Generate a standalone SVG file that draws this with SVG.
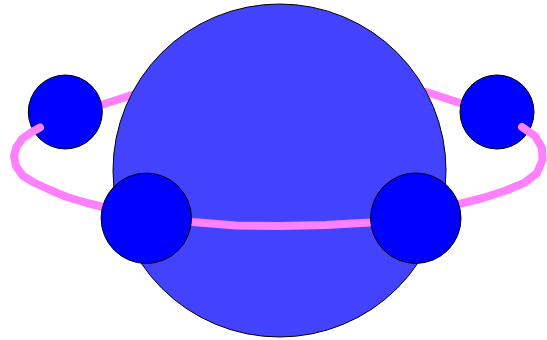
<svg xmlns="http://www.w3.org/2000/svg" width="547" height="340" viewBox="0 0 547 340">
  <style>
    .ring { fill: none; stroke: #ff80ff; stroke-width: 8; stroke-linecap: round; stroke-linejoin: round; }
    .moon { fill: #0000ff; stroke: #000000; stroke-width: 1; }
    .planet { fill: #4242ff; stroke: #000000; stroke-width: 1; }
  </style>
  <rect width="547" height="340" fill="#ffffff"/>
  <g id="connectors-back">
    <path class="ring" d="M65,112 L101,105 L132,95 L280,72 L428,92.5 L460,103 L497,112"/>
  </g>
  <g id="moon-top-left">
    <circle class="moon" cx="65.3" cy="112" r="37"/>
  </g>
  <g id="moon-top-right">
    <circle class="moon" cx="497" cy="112" r="37"/>
  </g>
  <g id="planet">
    <circle class="planet" cx="279.5" cy="170.5" r="166.5"/>
  </g>
  <g id="connectors">
    <path class="ring" d="M40,127.5 L31,132.5 L22,139 L16.5,147 L14,156 L16,166 L23,176 L35,183 L50,190 L67,197 L87,203 L103,207 L146,216 L192,222 L236,225.5 L280,226 L326,225 L370,222.5 L415,215 L463,203 L483,198 L506,190.5 L525,182.5 L537,173 L542.5,160 L542,148 L535,136 L522,127"/>
  </g>
  <g id="moon-bottom-left">
    <circle class="moon" cx="146.3" cy="218.3" r="45.2"/>
  </g>
  <g id="moon-bottom-right">
    <circle class="moon" cx="415.8" cy="218.2" r="45.2"/>
  </g>
</svg>
